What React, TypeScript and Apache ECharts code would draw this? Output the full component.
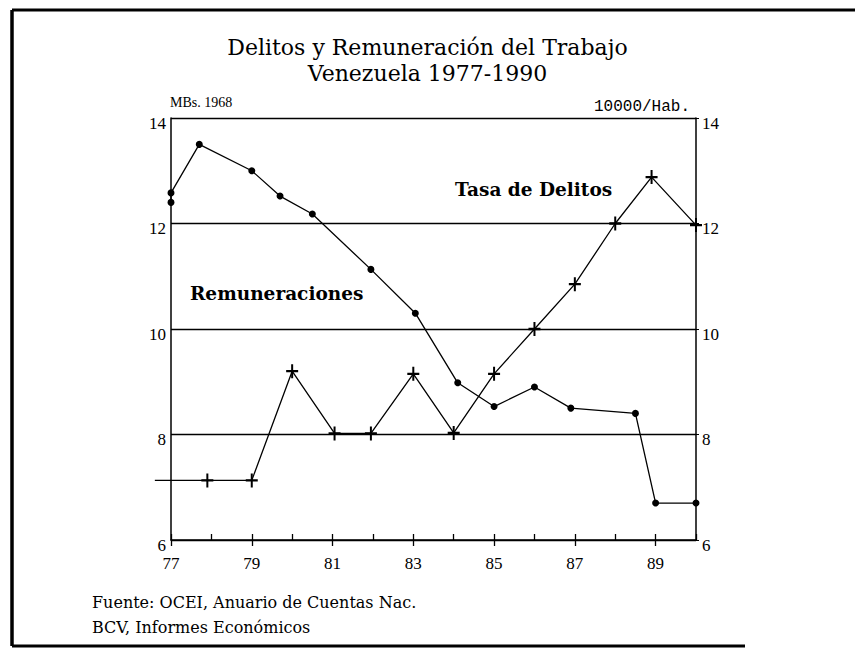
import React, { useEffect, useRef } from "react";
import * as echarts from "echarts";

const titleLines = ["Delitos y Remuneración del Trabajo", "Venezuela 1977-1990"];
const leftUnit = "MBs. 1968";
const rightUnit = "10000/Hab.";
const remLabel = "Remuneraciones";
const delLabel = "Tasa de Delitos";
const sourceLines = ["Fuente: OCEI, Anuario de Cuentas Nac.", "BCV, Informes Económicos"];

const remYears = [77, 77, 77.7, 79, 79.7, 80.5, 81.95, 83.05, 84.1, 85, 86, 86.9, 88.5, 89, 90];
const remValues = [12.4, 12.58, 13.5, 13.0, 12.52, 12.18, 11.13, 10.3, 8.98, 8.53, 8.9, 8.5, 8.4, 6.7, 6.7];

const delYears = [77.9, 79, 80, 81.05, 81.95, 83, 84, 85, 86, 87, 88, 88.9, 90];
const delValues = [7.13, 7.13, 9.2, 8.02, 8.02, 9.15, 8.03, 9.15, 10.0, 10.85, 12.0, 12.88, 11.97];
// the crime line begins left of the axis, before its first marker
const delLeadStart = 76.6;

const yMin = 6;
const yMax = 14;
const yStep = 2;
const xMin = 77;
const xMax = 90;

const SERIF = "'Liberation Serif', 'DejaVu Serif', serif";
const SERIF2 = "'DejaVu Serif', serif";
const MONO = "'Liberation Mono', 'DejaVu Sans Mono', monospace";

const crossPath =
  "path://M-1,-6L1,-6L1,-1L6,-1L6,1L1,1L1,6L-1,6L-1,1L-6,1L-6,-1L-1,-1Z";

export default function App() {
  const ref = useRef<HTMLDivElement>(null);
  useEffect(() => {
    if (!ref.current) return;
    const chart = echarts.init(ref.current, undefined, { renderer: "svg" });
    const remData = remYears.map((x, i) => [x, remValues[i]]);
    const delData = delYears.map((x, i) => [x, delValues[i]]);
    const axisLabelY = {
      fontFamily: SERIF,
      fontSize: 17,
      color: "#000",
      verticalAlign: "top",
      lineHeight: 10,
    };
    chart.setOption({
      animation: false,
      backgroundColor: "#fff",
      title: {
        text: titleLines.join("\n"),
        left: "center",
        top: 29,
        textStyle: {
          fontFamily: SERIF2,
          fontSize: 22,
          fontWeight: "normal",
          color: "#000",
          lineHeight: 26,
        },
      },
      grid: { left: 171, right: 159, top: 118, bottom: 110 },
      xAxis: [
        {
          type: "value",
          min: xMin,
          max: xMax,
          interval: 2,
          position: "bottom",
          axisLine: { show: true, lineStyle: { color: "#000", width: 1.5 } },
          axisTick: { show: true, inside: false, length: 6, lineStyle: { color: "#000", width: 1.3 } },
          axisLabel: {
            showMaxLabel: false,
            margin: 15,
            fontFamily: SERIF,
            fontSize: 17,
            color: "#000",
          },
          splitLine: { show: false },
        },
        {
          type: "value",
          min: xMin,
          max: xMax,
          interval: 1,
          position: "bottom",
          axisLine: { show: false },
          axisTick: { show: true, inside: true, length: 6, lineStyle: { color: "#000", width: 1.3 } },
          axisLabel: { show: false },
          splitLine: { show: false },
        },
      ],
      yAxis: [
        {
          type: "value",
          min: yMin,
          max: yMax,
          interval: yStep,
          position: "left",
          axisLine: { show: true, lineStyle: { color: "#000", width: 1.5 } },
          axisTick: { show: false },
          axisLabel: { ...axisLabelY, margin: 5 },
          splitLine: { show: true, lineStyle: { color: "#000", width: 1.3 } },
        },
        {
          type: "value",
          min: yMin,
          max: yMax,
          interval: yStep,
          position: "right",
          axisLine: { show: true, lineStyle: { color: "#000", width: 1.5 } },
          axisTick: { show: true, length: 3, lineStyle: { color: "#000" } },
          axisLabel: { ...axisLabelY, margin: 6 },
          splitLine: { show: false },
        },
      ],
      series: [
        {
          name: remLabel,
          type: "line",
          xAxisIndex: 0,
          yAxisIndex: 0,
          data: remData,
          symbol: "circle",
          symbolSize: 7,
          itemStyle: { color: "#000" },
          lineStyle: { color: "#000", width: 1.3 },
          clip: false,
        },
        {
          name: delLabel,
          type: "line",
          xAxisIndex: 0,
          yAxisIndex: 1,
          data: delData,
          symbol: crossPath,
          symbolSize: [12, 14],
          itemStyle: { color: "#000" },
          lineStyle: { color: "#000", width: 1.3 },
          clip: false,
        },
        {
          name: delLabel + " (inicio)",
          type: "custom",
          xAxisIndex: 0,
          yAxisIndex: 1,
          clip: false,
          silent: true,
          encode: { x: 0, y: 1 },
          data: [[delYears[0], delValues[0], delLeadStart]],
          renderItem: (_params: any, api: any) => {
            const end = api.coord([api.value(0), api.value(1)]);
            const start = api.coord([api.value(2), api.value(1)]);
            return {
              type: "line",
              shape: { x1: start[0], y1: start[1], x2: end[0], y2: end[1] },
              style: { stroke: "#000", lineWidth: 1.3 },
            };
          },
        },
      ],
      graphic: [
        { type: "line", shape: { x1: 12, y1: 10, x2: 855, y2: 10 }, style: { stroke: "#000", lineWidth: 3 } },
        { type: "line", shape: { x1: 12, y1: 10, x2: 12, y2: 646 }, style: { stroke: "#000", lineWidth: 3.5 } },
        { type: "line", shape: { x1: 12, y1: 646, x2: 745, y2: 646 }, style: { stroke: "#000", lineWidth: 3 } },
        {
          type: "text",
          x: 170,
          y: 102,
          style: { text: leftUnit, fontFamily: SERIF, fontSize: 14, fill: "#000", verticalAlign: "middle" },
        },
        {
          type: "text",
          x: 690,
          y: 107,
          style: { text: rightUnit, fontFamily: MONO, fontSize: 16, fill: "#000", align: "right", verticalAlign: "middle" },
        },
        {
          type: "text",
          x: 455,
          y: 189,
          style: { text: delLabel, fontFamily: SERIF2, fontSize: 18.5, fontWeight: "bold", fill: "#000", verticalAlign: "middle" },
        },
        {
          type: "text",
          x: 190,
          y: 293,
          style: { text: remLabel, fontFamily: SERIF2, fontSize: 18.5, fontWeight: "bold", fill: "#000", verticalAlign: "middle" },
        },
        {
          type: "text",
          x: 92,
          y: 602,
          style: { text: sourceLines[0], fontFamily: SERIF2, fontSize: 16, fill: "#000", verticalAlign: "middle" },
        },
        {
          type: "text",
          x: 92,
          y: 627,
          style: { text: sourceLines[1], fontFamily: SERIF2, fontSize: 16, fill: "#000", verticalAlign: "middle" },
        },
      ],
    });
    return () => chart.dispose();
  }, []);
  return (
    <div
      ref={ref}
      style={{ position: "fixed", left: 0, top: 0, width: 855, height: 650 }}
    />
  );
}
